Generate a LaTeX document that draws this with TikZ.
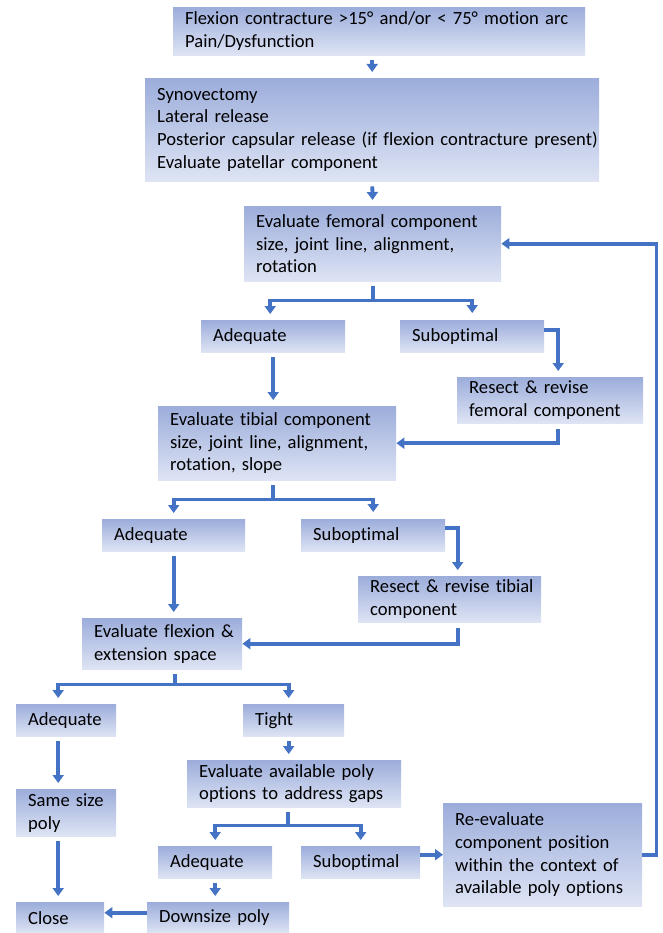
\documentclass[tikz,border=0pt]{standalone}
\usepackage{fontspec}
\setmainfont{Carlito}[Ligatures=NoCommon]
\usepackage{xcolor}
\usepackage{tikz}
\usetikzlibrary{positioning}
\usetikzlibrary{arrows.meta}

\definecolor{boxtop}{RGB}{156,173,219}
\definecolor{boxbot}{RGB}{222,228,244}
\definecolor{flowblue}{RGB}{68,114,196}

\tikzset{
  stepbox/.style={top color=boxtop, bottom color=boxbot, anchor=north west,
    inner xsep=0pt, inner ysep=0pt, align=left,
    font=\fontsize{18.6}{22.8}\selectfont,
    execute at begin node={\leftskip=12pt}},
  flow/.style={draw=flowblue, line width=3.8pt, -{Triangle[width=11pt,length=8pt]}},
  gap/.style={shorten <=5pt, shorten >=6pt}
}

\begin{document}
\begin{tikzpicture}[x=1pt, y=-1pt]

\useasboundingbox (0, 0) rectangle (662, 933);

% main trunk

\node [stepbox, text width=412pt, minimum height=48pt] at (173, 7) (onset) {Flexion contracture >15° and/or < 75° motion arc\\Pain/Dysfunction};
\node [stepbox, text width=454pt, minimum height=103pt] at (145, 78) (release) {Synovectomy\\Lateral release\\Posterior capsular release (if flexion contracture present)\\Evaluate patellar component};
\node [stepbox, text width=257pt, minimum height=75pt] at (244, 206) (femoral) {Evaluate femoral component\\size, joint line, alignment,\\rotation};

\path [flow, gap] (release.north |- onset.south) to (release.north);
\path [flow, gap] (release.south) to (femoral.north);

% femoral

\node [stepbox, text width=144pt, minimum height=32pt] at (201, 320) (adeqfem) {Adequate};
\node [stepbox, text width=144pt, minimum height=32pt] at (400, 320) (subfem) {Suboptimal};
\node [stepbox, text width=186pt, minimum height=46pt] at (457, 377) (resfem) {Resect \& revise\\femoral component};
\node [stepbox, text width=238pt, minimum height=74pt] at (158, 406) (tibial) {Evaluate tibial component\\size, joint line, alignment,\\rotation, slope};

\coordinate (femsplit) at ([yshift=-19pt]femoral.south);
\path [flow, gap] (femoral.south) -- (femsplit) -| ([xshift=-3pt]adeqfem.north);
\path [flow, shorten >=7pt] (femsplit) -| (subfem.north);
\path [flow, shorten >=6pt] ([yshift=6pt]subfem.east) -| ([xshift=8pt]resfem.north);
\path [flow, gap] (adeqfem.south) to (adeqfem.south |- tibial.north);
\path [flow, shorten <=6pt] ([xshift=8pt]resfem.south) |- (tibial.east);

% tibial

\node [stepbox, text width=143pt, minimum height=32pt] at (102, 519) (adeqtib) {Adequate};
\node [stepbox, text width=144pt, minimum height=32pt] at (301, 519) (subtib) {Suboptimal};
\node [stepbox, text width=183pt, minimum height=46pt] at (358, 576) (restib) {Resect \& revise tibial\\component};
\node [stepbox, text width=160pt, minimum height=51pt] at (82, 618) (space) {Evaluate flexion \&\\extension space};

\coordinate (tibsplit) at ([xshift=-4pt, yshift=-19pt]tibial.south);
\path [flow, gap] ([xshift=-4pt]tibial.south) -- (tibsplit) -| (adeqtib.north);
\path [flow, shorten >=7pt] (tibsplit) -| (subtib.north);
\path [flow, shorten >=6pt] ([yshift=7pt]subtib.east) -| ([xshift=8pt]restib.north);
\path [flow, gap] (adeqtib.south) to (adeqtib.south |- space.north);
\path [flow, shorten <=6pt] ([xshift=8pt]restib.south) |- (space.east);

% gaps

\node [stepbox, text width=100pt, minimum height=32pt] at (16, 704) (adeqspace) {Adequate};
\node [stepbox, text width=101pt, minimum height=32pt] at (243, 704) (tight) {Tight};
\node [stepbox, text width=100pt, minimum height=47pt] at (16, 789) (samepoly) {Same size\\poly};
\node [stepbox, text width=214pt, minimum height=47pt] at (187, 760) (polyopts) {Evaluate available poly\\options to address gaps};

\coordinate (spacesplit) at ([xshift=13pt, yshift=-15pt]space.south);
\path [flow, gap] ([xshift=13pt]space.south) -- (spacesplit) -| ([xshift=-8pt]adeqspace.north);
\path [flow, shorten >=6pt] (spacesplit) -| ([xshift=-5pt]tight.north);
\path [flow, gap] ([xshift=-8pt]adeqspace.south) to ([xshift=-8pt]adeqspace.south |- samepoly.north);
\path [flow, gap] ([xshift=-5pt]tight.south) to ([xshift=-5pt]tight.south |- polyopts.north);

% poly

\node [stepbox, text width=114pt, minimum height=32pt] at (158, 846) (adeqpoly) {Adequate};
\node [stepbox, text width=119pt, minimum height=32pt] at (301, 846) (subpoly) {Suboptimal};
\node [stepbox, text width=199pt, minimum height=103pt] at (443, 803) (reeval) {Re-evaluate\\component position\\within the context of\\available poly options};
\node [stepbox, text width=88pt, minimum height=31pt] at (16, 902) (close) {Close};
\node [stepbox, text width=142pt, minimum height=31pt] at (147, 902) (downsize) {Downsize poly};

\coordinate (polysplit) at ([xshift=-6pt, yshift=-18pt]polyopts.south);
\path [flow, gap] ([xshift=-6pt]polyopts.south) -- (polysplit) -| (adeqpoly.north);
\path [flow, shorten >=6pt] (polysplit) -| (subpoly.north);
\path [flow, gap] (adeqpoly.south) to (adeqpoly.south |- downsize.north);
\path [flow, gap] ([xshift=-8pt]samepoly.south) to ([xshift=-8pt]samepoly.south |- close.north);
\path [flow] ([yshift=5pt]downsize.west) to ([yshift=5pt]close.east);
\path [flow] (subpoly.east |- reeval.west) to (reeval.west);

% loop back

\path [flow] (reeval.east) -- ++(14, 0) |- (femoral.east);

\end{tikzpicture}
\end{document}
